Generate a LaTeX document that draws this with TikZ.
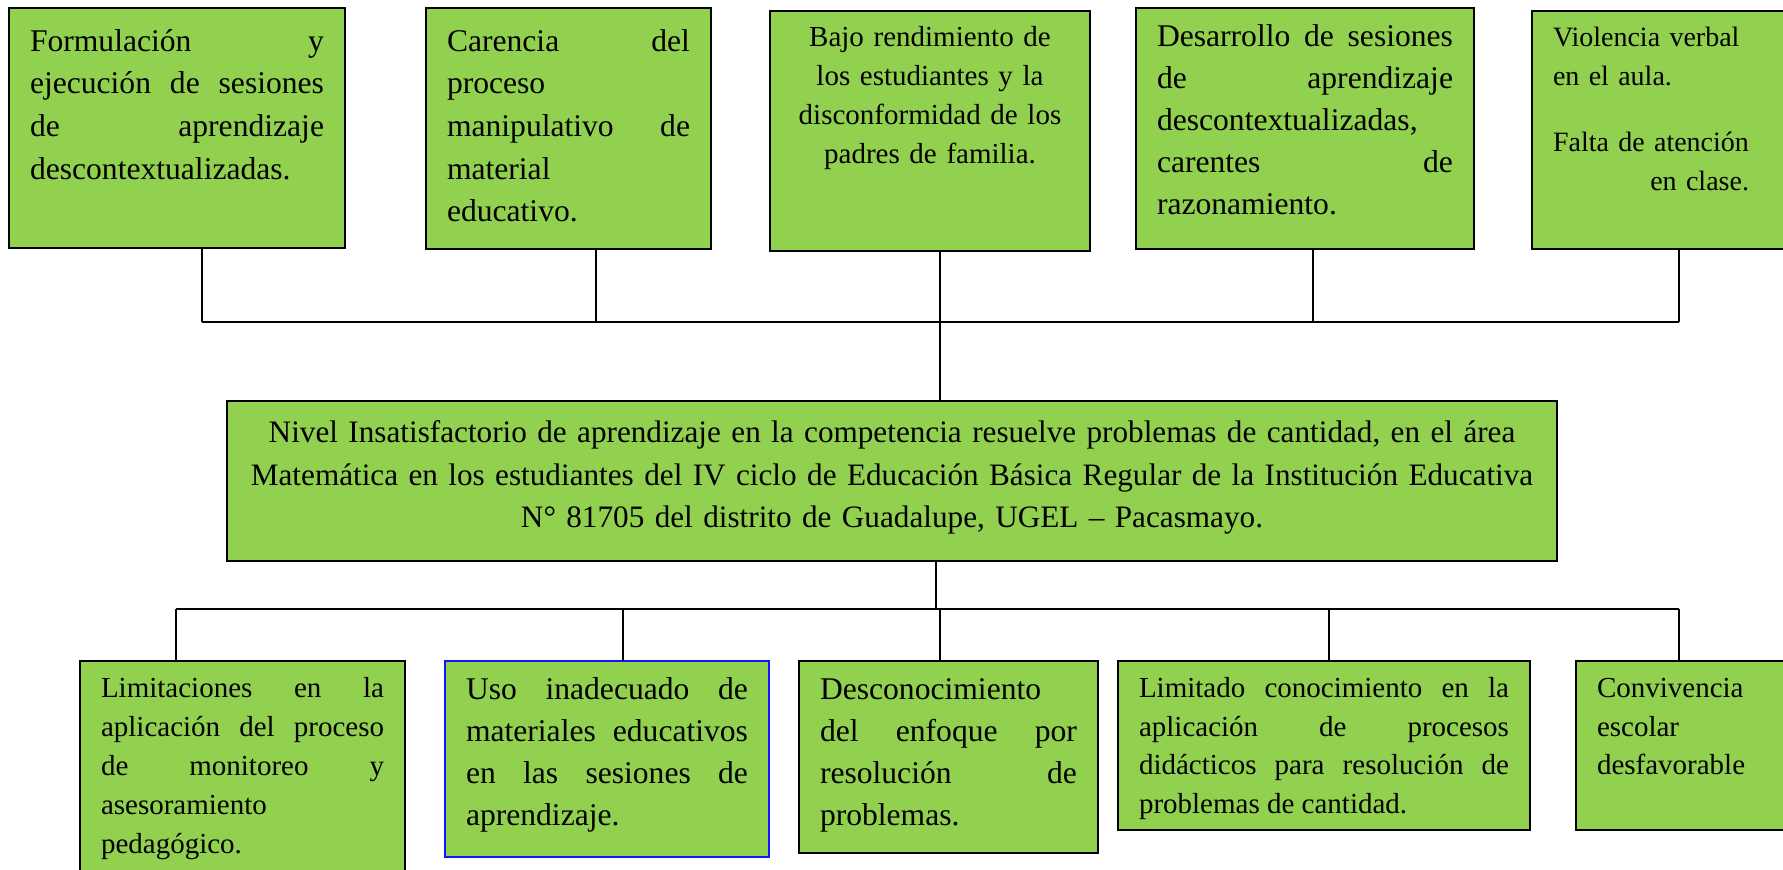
\documentclass[tikz,border=0pt]{standalone}
\usepackage{fontspec}
\setmainfont{Liberation Serif}
\definecolor{verdeclaro}{RGB}{146,208,80}
\definecolor{azulborde}{RGB}{20,20,255}
\hyphenpenalty=10000
\tolerance=9999

\begin{document}
\begin{tikzpicture}[x=0.5pt, y=-0.5pt,
    caja/.style={draw, line width=1pt, fill=verdeclaro, anchor=north west,
      inner xsep=10.5pt, inner ysep=0pt, outer sep=0pt, align=justify},
    grande/.style={font=\fontsize{15.8}{21pt}\selectfont},
    chica/.style={font=\fontsize{14.5}{19.5pt}\selectfont},
    enlace/.style={line width=0.6pt},
    barra/.style={line width=1pt}]
    \useasboundingbox (0,0) rectangle (1783,870);
    \clip (0,0) rectangle (1783,870);

    % causas
    \node[caja, grande, font=\fontsize{15.8}{21.3pt}\selectfont, text width=147pt, text height=21.7pt, text depth=98.3pt] (formulacion) at (9,8)
    {Formulación y\linebreak ejecución de sesiones\linebreak de aprendizaje\linebreak descontextualizadas.};
    \node[caja, grande, font=\fontsize{15.8}{21.3pt}\selectfont, text width=121.5pt, text height=21.7pt, text depth=98.8pt] (carencia) at (426,8)
    {Carencia del\linebreak proceso\linebreak manipulativo de\linebreak material\linebreak educativo.};
    \node[caja, chica, align=center, text width=139pt, text height=18pt, text depth=102pt] (rendimiento) at (770,11)
    {Bajo rendimiento de\\ los estudiantes y la\\ disconformidad de los\\ padres de familia.};
    \node[caja, grande, text width=148pt, text height=19.5pt, text depth=101pt] (desarrollo) at (1136,8)
    {Desarrollo de sesiones\linebreak de aprendizaje\linebreak descontextualizadas,\linebreak carentes de\linebreak razonamiento.};
    \node[caja, font=\fontsize{14}{19.5pt}\selectfont, line width=1.3pt, align=left, text width=113pt,
      text height=18pt, text depth=101pt] (violencia) at (1532,11)
    {Violencia verbal\\ en el aula.\\[13.5pt] Falta de atención\\ \makebox[98pt][r]{en clase.}};

    % problema central
    \node[caja, font=\fontsize{15.6}{21.3pt}\selectfont, inner xsep=6.5pt, align=center, text width=652pt,
      text height=20.8pt, text depth=59.2pt] (problema) at (227,401)
    {Nivel Insatisfactorio de aprendizaje en la competencia resuelve problemas de cantidad, en el área\\
      Matemática en los estudiantes del IV ciclo de Educación Básica Regular de la Institución Educativa\\
      N° 81705 del distrito de Guadalupe, UGEL – Pacasmayo.};

    % efectos
    \node[caja, chica, text width=141.5pt, text height=18.5pt, text depth=96pt] (limitaciones) at (80,661)
    {Limitaciones en la\linebreak aplicación del proceso\linebreak de monitoreo y\linebreak asesoramiento\linebreak pedagógico.};
    \node[caja, grande, draw=azulborde, line width=0.8pt, text width=141pt, text height=19.5pt, text depth=78.5pt] (uso) at (445,661)
    {Uso inadecuado de\linebreak materiales educativos\linebreak en las sesiones de\linebreak aprendizaje.};
    \node[caja, grande, text width=128.5pt, text height=19.5pt, text depth=76.5pt] (desconocimiento) at (799,661)
    {Desconocimiento\linebreak del enfoque por\linebreak resolución de\linebreak problemas.};
    \node[caja, chica, font=\fontsize{14.5}{19.25pt}\selectfont, text width=185pt, text height=18.5pt, text depth=66pt] (limitado) at (1118,661)
    {Limitado conocimiento en la\linebreak aplicación de procesos\linebreak didácticos para resolución de\linebreak problemas de cantidad.};
    \node[caja, font=\fontsize{14.5}{19.25pt}\selectfont, line width=1.3pt, align=left, text width=91pt,
      text height=18.5pt, text depth=66pt] (convivencia) at (1576,661)
    {Convivencia\\ escolar\\ desfavorable};

    % uniones de arriba
    \coordinate (ct1) at (202,322);
    \coordinate (ct2) at (596,322);
    \coordinate (ct3) at (940,322);
    \coordinate (ct4) at (1313,322);
    \coordinate (ct5) at (1679,322);
    \draw[barra] (ct1) -- (ct5);
    \draw[enlace] (ct1 |- formulacion.south) -- (ct1)
      (ct2 |- carencia.south) -- (ct2)
      (ct3 |- rendimiento.south) -- (ct3 |- problema.north)
      (ct4 |- desarrollo.south) -- (ct4)
      (ct5 |- violencia.south) -- (ct5);

    % uniones de abajo
    \coordinate (ce0) at (936,609);
    \coordinate (ce1) at (176,609);
    \coordinate (ce2) at (623,609);
    \coordinate (ce3) at (940,609);
    \coordinate (ce4) at (1329,609);
    \coordinate (ce5) at (1679,609);
    \draw[barra, line width=0.8pt] (ce1) -- (ce5);
    \draw[enlace] (ce0 |- problema.south) -- (ce0)
      (ce1) -- (ce1 |- limitaciones.north)
      (ce2) -- (ce2 |- uso.north)
      (ce3) -- (ce3 |- desconocimiento.north)
      (ce4) -- (ce4 |- limitado.north)
      (ce5) -- (ce5 |- convivencia.north);
\end{tikzpicture}
\end{document}
